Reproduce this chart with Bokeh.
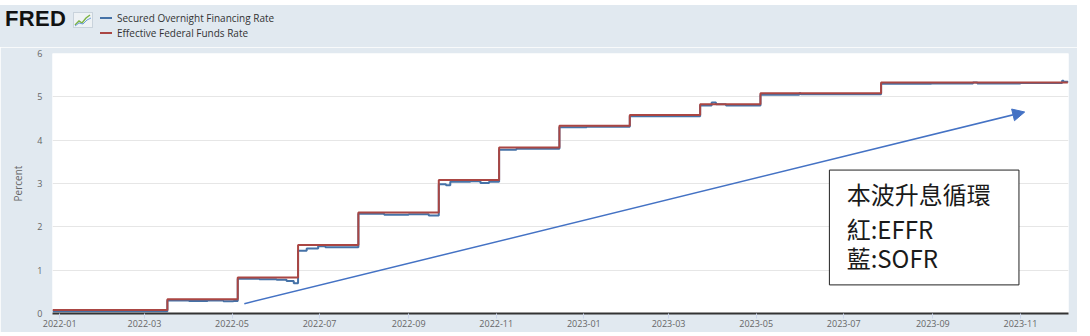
import pandas as pd
from bokeh.plotting import figure
from bokeh.layouts import column
from bokeh.models import (Label, BoxAnnotation, Arrow, NormalHead, Div,
                          FixedTicker, DatetimeTickFormatter, Range1d, ColumnDataSource)
from bokeh.embed import file_html
from bokeh.resources import INLINE

# ---------------- data ----------------
effr_dates = ["2021-12-27", "2022-03-17", "2022-05-05", "2022-06-16", "2022-07-28",
              "2022-09-22", "2022-11-03", "2022-12-15", "2023-02-02", "2023-03-23",
              "2023-05-04", "2023-07-27", "2023-12-04"]
effr_vals = [0.08, 0.33, 0.83, 1.58, 2.33, 3.08, 3.83, 4.33, 4.58, 4.83, 5.08, 5.33, 5.33]

sofr_dates = ["2021-12-27", "2022-03-17", "2022-04-01", "2022-04-14", "2022-04-25",
              "2022-05-02", "2022-05-05", "2022-05-20", "2022-06-01", "2022-06-08",
              "2022-06-13", "2022-06-16", "2022-06-22", "2022-06-30", "2022-07-05",
              "2022-07-28", "2022-08-15", "2022-09-01", "2022-09-15", "2022-09-22",
              "2022-09-27", "2022-09-30", "2022-10-14", "2022-10-21", "2022-10-27",
              "2022-11-03", "2022-11-15", "2022-12-15", "2023-01-03", "2023-02-02",
              "2023-03-23", "2023-03-31", "2023-04-03", "2023-04-10", "2023-05-04",
              "2023-05-31", "2023-06-01", "2023-07-27", "2023-08-31", "2023-09-29",
              "2023-10-02", "2023-11-01", "2023-11-30", "2023-12-01", "2023-12-04"]
sofr_vals = [0.05, 0.30, 0.29, 0.30, 0.28,
             0.29, 0.80, 0.79, 0.78, 0.75,
             0.70, 1.45, 1.50, 1.55, 1.53,
             2.30, 2.28, 2.29, 2.26, 2.98,
             2.96, 3.04, 3.05, 3.01, 3.04,
             3.78, 3.80, 4.30, 4.31, 4.55,
             4.80, 4.87, 4.83, 4.80, 5.05,
             5.08, 5.06, 5.30, 5.31, 5.33,
             5.31, 5.32, 5.37, 5.35, 5.33]

tick_labels = ["2022-01", "2022-03", "2022-05", "2022-07", "2022-09", "2022-11",
               "2023-01", "2023-03", "2023-05", "2023-07", "2023-09", "2023-11"]

series_names = ["Secured Overnight Financing Rate", "Effective Federal Funds Rate"]
series_colors = ["#4572A7", "#AA4643"]


def ms(s):
    return pd.Timestamp(s).value / 1e6


BG = "#e1e9f0"
FONT = "Open Sans"

# ---------------- header (logo + legend) ----------------
icon_svg = ('<svg width="20" height="16" style="position:absolute;left:73px;top:7px">'
            '<rect x="0.5" y="0.5" width="19" height="15" fill="#eef2f5" stroke="#c9d3dc"/>'
            '<polyline points="2,13 6,9 9,11 13,6 17,3" fill="none" stroke="#7cb342" stroke-width="1.4"/>'
            '<polyline points="2,14 6,11 10,12 14,8 18,6" fill="none" stroke="#6f9fd8" stroke-width="1"/>'
            '</svg>')
rows = "".join(
    '<div style="height:15px;line-height:15px;white-space:nowrap">'
    f'<span style="display:inline-block;width:12px;height:2px;background:{c};'
    'vertical-align:middle;margin-right:5px"></span>'
    f'<span style="vertical-align:middle">{n}</span></div>'
    for n, c in zip(series_names, series_colors))
header_html = (
    f'<div style="position:relative;width:1077px;height:42px;background:{BG};overflow:hidden">'
    '<span style="position:absolute;left:5px;top:3px;font-family:\'Liberation Sans\';'
    'font-weight:bold;font-size:22px;line-height:22px;color:#111;letter-spacing:0.3px">FRED</span>'
    + icon_svg +
    f'<div style="position:absolute;left:100px;top:5px;font-family:\'{FONT}\';font-size:10px;'
    f'color:#333">{rows}</div></div>')
header = Div(text=header_html, width=1077, height=42, margin=(5, 13, 0, 0))

# ---------------- main chart ----------------
p = figure(width=1077, height=285, output_backend="svg", toolbar_location=None,
           x_axis_type="datetime",
           x_range=Range1d(ms("2021-12-27"), ms("2023-12-04 12:00")),
           y_range=Range1d(0, 6),
           min_border_left=52, min_border_right=9, min_border_top=6, min_border_bottom=19,
           border_fill_color=BG, background_fill_color="white", outline_line_color=None,
           margin=(0, 13, 4, 0))

sofr_src = ColumnDataSource(dict(x=[pd.Timestamp(d) for d in sofr_dates], y=sofr_vals))
effr_src = ColumnDataSource(dict(x=[pd.Timestamp(d) for d in effr_dates], y=effr_vals))

p.step("x", "y", source=sofr_src, mode="after", line_color=series_colors[0], line_width=2)
p.step("x", "y", source=effr_src, mode="after", line_color=series_colors[1], line_width=2)

xa = p.xaxis[0]
xa.ticker = FixedTicker(ticks=[ms(t + "-01") for t in tick_labels])
fmt = "%Y-%m"
xa.formatter = DatetimeTickFormatter(milliseconds=fmt, seconds=fmt, minsec=fmt, minutes=fmt,
                                     hourmin=fmt, hours=fmt, days=fmt, months=fmt, years=fmt,
                                     context=None)
xa.axis_line_color = "#333333"
xa.axis_line_width = 2
xa.major_tick_out = 5
xa.major_tick_in = 0
xa.major_tick_line_color = "#ccd6eb"
xa.minor_tick_line_color = None
xa.major_label_standoff = 1
xa.major_label_text_font = FONT
xa.major_label_text_font_size = "9px"
xa.major_label_text_color = "#666666"

ya = p.yaxis[0]
ya.ticker = FixedTicker(ticks=[0, 1, 2, 3, 4, 5, 6])
ya.axis_line_color = None
ya.major_tick_line_color = None
ya.major_tick_out = 0
ya.major_tick_in = 0
ya.minor_tick_line_color = None
ya.minor_tick_out = 0
ya.major_label_standoff = 10
ya.major_label_text_font = FONT
ya.major_label_text_font_size = "9px"
ya.major_label_text_color = "#666666"
ya.axis_label = "Percent"
ya.axis_label_text_font = FONT
ya.axis_label_text_font_size = "10px"
ya.axis_label_text_font_style = "normal"
ya.axis_label_text_color = "#666666"
ya.axis_label_standoff = 9

p.xgrid.grid_line_color = None
p.ygrid.grid_line_color = "#e6e6e6"
p.ygrid.grid_line_width = 1

# annotation arrow
p.add_layout(Arrow(x_start=ms("2022-05-09 14:00"), y_start=0.226,
                   x_end=ms("2023-11-04"), y_end=4.65,
                   line_color="#4472C4", line_width=1.5,
                   end=NormalHead(size=12, fill_color="#4472C4", line_color="#4472C4")))

# annotation box
p.add_layout(BoxAnnotation(left=ms("2023-06-21"), right=ms("2023-10-31"), bottom=0.66, top=3.31,
                           fill_color="white", fill_alpha=1, line_color="#222222", line_width=1,
                           line_alpha=1))
box_lines = ["本波升息循環", "紅:EFFR", "藍:SOFR"]
box_y = [2.77, 1.96, 1.29]
for t, yy in zip(box_lines, box_y):
    p.add_layout(Label(x=ms("2023-07-03"), y=yy, text=t, text_font="Noto Sans CJK TC",
                       text_font_size="24px", text_color="#1a1a1a", text_baseline="middle"))

layout = column(header, p, spacing=0)
open("out.html", "w").write(file_html(layout, INLINE))
